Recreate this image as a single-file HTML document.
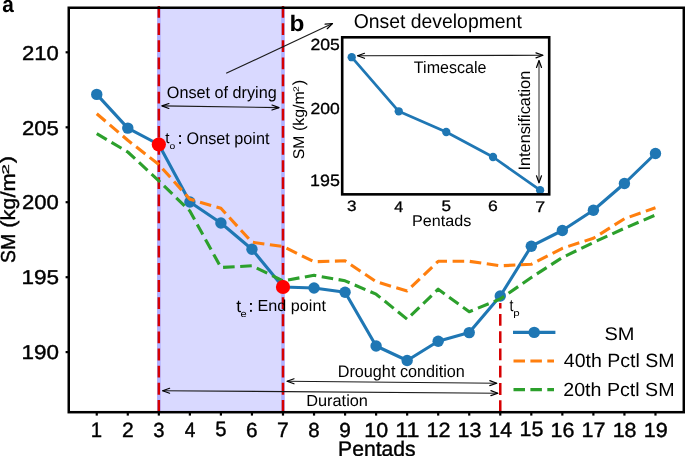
<!DOCTYPE html>
<html><head><meta charset="utf-8"><style>
html,body{margin:0;padding:0;background:#fff;width:685px;height:456px;overflow:hidden}
svg{display:block;font-family:"Liberation Sans",sans-serif;text-rendering:geometricPrecision}
svg{will-change:transform}
</style></head><body>
<svg width="685" height="456" viewBox="0 0 685 456">
<rect width="685" height="456" fill="#fff"/>
<rect x="158.83" y="7.75" width="124.16" height="404.45" fill="rgb(217,217,255)"/>
<line x1="158.83" y1="7.75" x2="158.83" y2="412.2" stroke="rgb(176,176,255)" stroke-width="3.6"/>
<line x1="282.99" y1="7.75" x2="282.99" y2="412.2" stroke="rgb(176,176,255)" stroke-width="3.6"/>
<line x1="158.83" y1="6" x2="158.83" y2="412.2" stroke="rgb(214,0,2)" stroke-width="2.5" stroke-dasharray="11.8 5.33"/>
<line x1="282.99" y1="6" x2="282.99" y2="412.2" stroke="rgb(214,0,2)" stroke-width="2.5" stroke-dasharray="11.8 5.33"/>
<line x1="500.27" y1="303" x2="500.27" y2="412.2" stroke="rgb(214,0,2)" stroke-width="2.5" stroke-dasharray="11.9 5.38" stroke-dashoffset="6.4"/>
<polyline points="96.75,94.4 127.79,128.1 158.83,144.5 189.87,202 220.91,223.0 251.95,249.25 282.99,287 314.03,288 345.07,292.3 376.11,346 407.15,360.5 438.19,341.2 469.23,332.6 500.27,296.0 531.31,246.2 562.35,230.5 593.39,210.2 624.43,183.5 655.47,153.5" fill="none" stroke="#1f77b4" stroke-width="3.1" stroke-linejoin="round"/>
<circle cx="96.75" cy="94.4" r="5.7" fill="#1f77b4"/>
<circle cx="127.79" cy="128.1" r="5.7" fill="#1f77b4"/>
<circle cx="158.83" cy="144.5" r="5.7" fill="#1f77b4"/>
<circle cx="189.87" cy="202" r="5.7" fill="#1f77b4"/>
<circle cx="220.91" cy="223.0" r="5.7" fill="#1f77b4"/>
<circle cx="251.95" cy="249.25" r="5.7" fill="#1f77b4"/>
<circle cx="282.99" cy="287" r="5.7" fill="#1f77b4"/>
<circle cx="314.03" cy="288" r="5.7" fill="#1f77b4"/>
<circle cx="345.07" cy="292.3" r="5.7" fill="#1f77b4"/>
<circle cx="376.11" cy="346" r="5.7" fill="#1f77b4"/>
<circle cx="407.15" cy="360.5" r="5.7" fill="#1f77b4"/>
<circle cx="438.19" cy="341.2" r="5.7" fill="#1f77b4"/>
<circle cx="469.23" cy="332.6" r="5.7" fill="#1f77b4"/>
<circle cx="500.27" cy="296.0" r="5.7" fill="#1f77b4"/>
<circle cx="531.31" cy="246.2" r="5.7" fill="#1f77b4"/>
<circle cx="562.35" cy="230.5" r="5.7" fill="#1f77b4"/>
<circle cx="593.39" cy="210.2" r="5.7" fill="#1f77b4"/>
<circle cx="624.43" cy="183.5" r="5.7" fill="#1f77b4"/>
<circle cx="655.47" cy="153.5" r="5.7" fill="#1f77b4"/>
<polyline points="96.75,113.7 127.79,140.3 158.83,164.5 189.87,199.2 220.91,208.3 251.95,242.2 282.99,246.5 314.03,261.7 345.07,260.8 376.11,281.7 407.15,291.0 438.19,261.3 469.23,261.3 500.27,265.8 531.31,264.3 562.35,248.3 593.39,238.3 624.43,218.7 655.47,207.7" fill="none" stroke="#ff7f0e" stroke-width="3.1" stroke-linejoin="round" stroke-dasharray="11.6 5.57"/>
<polyline points="96.75,133.7 127.79,152.0 158.83,180.8 189.87,211.0 220.91,267.5 251.95,265.8 282.99,280.8 314.03,275.3 345.07,280.8 376.11,294.2 407.15,319.2 438.19,289.2 469.23,311.7 500.27,299.0 531.31,277.5 562.35,257.5 593.39,242.5 624.43,228.3 655.47,215.0" fill="none" stroke="#2ca02c" stroke-width="3.1" stroke-linejoin="round" stroke-dasharray="11.6 5.52"/>
<circle cx="158.83" cy="144.5" r="7.1" fill="#ff0000"/>
<circle cx="282.99" cy="287" r="7.1" fill="#ff0000"/>
<rect x="68.75" y="7.75" width="615.05" height="404.45" fill="none" stroke="#000" stroke-width="2.5"/>
<line x1="96.75" y1="412.2" x2="96.75" y2="415.6" stroke="#000" stroke-width="2.2"/>
<line x1="127.79" y1="412.2" x2="127.79" y2="415.6" stroke="#000" stroke-width="2.2"/>
<line x1="158.83" y1="412.2" x2="158.83" y2="415.6" stroke="#000" stroke-width="2.2"/>
<line x1="189.87" y1="412.2" x2="189.87" y2="415.6" stroke="#000" stroke-width="2.2"/>
<line x1="220.91" y1="412.2" x2="220.91" y2="415.6" stroke="#000" stroke-width="2.2"/>
<line x1="251.95" y1="412.2" x2="251.95" y2="415.6" stroke="#000" stroke-width="2.2"/>
<line x1="282.99" y1="412.2" x2="282.99" y2="415.6" stroke="#000" stroke-width="2.2"/>
<line x1="314.03" y1="412.2" x2="314.03" y2="415.6" stroke="#000" stroke-width="2.2"/>
<line x1="345.07" y1="412.2" x2="345.07" y2="415.6" stroke="#000" stroke-width="2.2"/>
<line x1="376.11" y1="412.2" x2="376.11" y2="415.6" stroke="#000" stroke-width="2.2"/>
<line x1="407.15" y1="412.2" x2="407.15" y2="415.6" stroke="#000" stroke-width="2.2"/>
<line x1="438.19" y1="412.2" x2="438.19" y2="415.6" stroke="#000" stroke-width="2.2"/>
<line x1="469.23" y1="412.2" x2="469.23" y2="415.6" stroke="#000" stroke-width="2.2"/>
<line x1="500.27" y1="412.2" x2="500.27" y2="415.6" stroke="#000" stroke-width="2.2"/>
<line x1="531.31" y1="412.2" x2="531.31" y2="415.6" stroke="#000" stroke-width="2.2"/>
<line x1="562.35" y1="412.2" x2="562.35" y2="415.6" stroke="#000" stroke-width="2.2"/>
<line x1="593.39" y1="412.2" x2="593.39" y2="415.6" stroke="#000" stroke-width="2.2"/>
<line x1="624.43" y1="412.2" x2="624.43" y2="415.6" stroke="#000" stroke-width="2.2"/>
<line x1="655.47" y1="412.2" x2="655.47" y2="415.6" stroke="#000" stroke-width="2.2"/>
<line x1="65.6" y1="52.3" x2="68.75" y2="52.3" stroke="#000" stroke-width="2.2"/>
<line x1="65.6" y1="127.3" x2="68.75" y2="127.3" stroke="#000" stroke-width="2.2"/>
<line x1="65.6" y1="202.2" x2="68.75" y2="202.2" stroke="#000" stroke-width="2.2"/>
<line x1="65.6" y1="277.2" x2="68.75" y2="277.2" stroke="#000" stroke-width="2.2"/>
<line x1="65.6" y1="352.1" x2="68.75" y2="352.1" stroke="#000" stroke-width="2.2"/>
<line x1="513" y1="332.4" x2="555.4" y2="332.4" stroke="#1f77b4" stroke-width="3.1"/>
<circle cx="534.2" cy="332.4" r="5.7" fill="#1f77b4"/>
<line x1="513.5" y1="361" x2="554" y2="361" stroke="#ff7f0e" stroke-width="3.1" stroke-dasharray="11.5 5.4"/>
<line x1="513.5" y1="389.6" x2="554" y2="389.6" stroke="#2ca02c" stroke-width="3.1" stroke-dasharray="11.5 5.4"/>
<rect x="342.2" y="37.3" width="207.00000000000006" height="157.05" fill="#fff"/>
<polyline points="351.7,57.2 398.75,111.3 446.25,132 493,157 540.1,190.2" fill="none" stroke="#1f77b4" stroke-width="2.75" stroke-linejoin="round"/>
<circle cx="351.7" cy="57.2" r="4.15" fill="#1f77b4"/>
<circle cx="398.75" cy="111.3" r="4.15" fill="#1f77b4"/>
<circle cx="446.25" cy="132" r="4.15" fill="#1f77b4"/>
<circle cx="493" cy="157" r="4.15" fill="#1f77b4"/>
<circle cx="540.1" cy="190.2" r="4.15" fill="#1f77b4"/>
<rect x="342.2" y="37.3" width="207.00" height="157.05" fill="none" stroke="#000" stroke-width="2.6"/>
<line x1="161.9" y1="105.9" x2="279.0" y2="107.6" stroke="#1a1a1a" stroke-width="1.1"/><polyline points="271.96,110.00 279.00,107.60 272.04,105.00" fill="none" stroke="#000" stroke-width="1.2000000000000002" stroke-linejoin="round" stroke-linecap="round"/><polyline points="168.94,103.50 161.90,105.90 168.86,108.50" fill="none" stroke="#000" stroke-width="1.2000000000000002" stroke-linejoin="round" stroke-linecap="round"/>
<line x1="287" y1="381.2" x2="496.8" y2="383.2" stroke="#1a1a1a" stroke-width="1.1"/><polyline points="489.78,385.63 496.80,383.20 489.82,380.63" fill="none" stroke="#000" stroke-width="1.2000000000000002" stroke-linejoin="round" stroke-linecap="round"/><polyline points="294.02,378.77 287.00,381.20 293.98,383.77" fill="none" stroke="#000" stroke-width="1.2000000000000002" stroke-linejoin="round" stroke-linecap="round"/>
<line x1="162.6" y1="390.7" x2="497.9" y2="393.2" stroke="#1a1a1a" stroke-width="1.1"/><polyline points="490.88,395.65 497.90,393.20 490.92,390.65" fill="none" stroke="#000" stroke-width="1.2000000000000002" stroke-linejoin="round" stroke-linecap="round"/><polyline points="169.62,388.25 162.60,390.70 169.58,393.25" fill="none" stroke="#000" stroke-width="1.2000000000000002" stroke-linejoin="round" stroke-linecap="round"/>
<line x1="226.2" y1="73.3" x2="332.5" y2="23.5" stroke="#1a1a1a" stroke-width="1.1"/><polyline points="327.22,28.73 332.50,23.50 325.10,24.21" fill="none" stroke="#000" stroke-width="1.2000000000000002" stroke-linejoin="round" stroke-linecap="round"/>
<line x1="357.5" y1="55.8" x2="543" y2="55.3" stroke="#1a1a1a" stroke-width="1.1"/><polyline points="536.01,57.82 543.00,55.30 535.99,52.82" fill="none" stroke="#000" stroke-width="1.2000000000000002" stroke-linejoin="round" stroke-linecap="round"/><polyline points="364.49,53.28 357.50,55.80 364.51,58.28" fill="none" stroke="#000" stroke-width="1.2000000000000002" stroke-linejoin="round" stroke-linecap="round"/>
<line x1="539.0" y1="60.5" x2="539.0" y2="182.8" stroke="#000" stroke-width="0.85"/><polyline points="536.50,175.80 539.00,182.80 541.50,175.80" fill="none" stroke="#000" stroke-width="1.2" stroke-linejoin="round" stroke-linecap="round"/><polyline points="541.50,67.50 539.00,60.50 536.50,67.50" fill="none" stroke="#000" stroke-width="1.2" stroke-linejoin="round" stroke-linecap="round"/>
<text transform="translate(21.99,59.50) scale(1.1020,1)" font-size="20.06" font-weight="normal" fill="#000"  stroke="#000" stroke-width="0.4" stroke-linejoin="round">210</text>
<text transform="translate(21.99,134.50) scale(1.1041,1)" font-size="20.06" font-weight="normal" fill="#000"  stroke="#000" stroke-width="0.4" stroke-linejoin="round">205</text>
<text transform="translate(21.99,209.40) scale(1.1020,1)" font-size="20.06" font-weight="normal" fill="#000"  stroke="#000" stroke-width="0.4" stroke-linejoin="round">200</text>
<text transform="translate(21.39,284.40) scale(1.1226,1)" font-size="20.06" font-weight="normal" fill="#000"  stroke="#000" stroke-width="0.4" stroke-linejoin="round">195</text>
<text transform="translate(21.39,359.30) scale(1.1205,1)" font-size="20.06" font-weight="normal" fill="#000"  stroke="#000" stroke-width="0.4" stroke-linejoin="round">190</text>
<text transform="translate(90.80,436.70) scale(0.9755,1)" font-size="20.93" font-weight="normal" fill="#000"  stroke="#000" stroke-width="0.4" stroke-linejoin="round">1</text>
<text transform="translate(121.94,436.70) scale(1.0205,1)" font-size="20.63" font-weight="normal" fill="#000"  stroke="#000" stroke-width="0.4" stroke-linejoin="round">2</text>
<text transform="translate(153.26,436.50) scale(0.9958,1)" font-size="20.34" font-weight="normal" fill="#000"  stroke="#000" stroke-width="0.4" stroke-linejoin="round">3</text>
<text transform="translate(184.63,436.70) scale(0.9101,1)" font-size="20.93" font-weight="normal" fill="#000"  stroke="#000" stroke-width="0.4" stroke-linejoin="round">4</text>
<text transform="translate(215.30,436.49) scale(0.9817,1)" font-size="20.63" font-weight="normal" fill="#000"  stroke="#000" stroke-width="0.4" stroke-linejoin="round">5</text>
<text transform="translate(246.09,436.50) scale(1.0239,1)" font-size="20.34" font-weight="normal" fill="#000"  stroke="#000" stroke-width="0.4" stroke-linejoin="round">6</text>
<text transform="translate(277.11,436.70) scale(1.0081,1)" font-size="20.93" font-weight="normal" fill="#000"  stroke="#000" stroke-width="0.4" stroke-linejoin="round">7</text>
<text transform="translate(308.35,436.50) scale(1.0043,1)" font-size="20.34" font-weight="normal" fill="#000"  stroke="#000" stroke-width="0.4" stroke-linejoin="round">8</text>
<text transform="translate(339.29,436.50) scale(1.0216,1)" font-size="20.34" font-weight="normal" fill="#000"  stroke="#000" stroke-width="0.4" stroke-linejoin="round">9</text>
<text transform="translate(364.34,436.50) scale(1.0504,1)" font-size="20.34" font-weight="normal" fill="#000"  stroke="#000" stroke-width="0.4" stroke-linejoin="round">10</text>
<text transform="translate(395.23,436.70) scale(1.1146,1)" font-size="20.93" font-weight="normal" fill="#000"  stroke="#000" stroke-width="0.4" stroke-linejoin="round">11</text>
<text transform="translate(426.40,436.70) scale(1.0471,1)" font-size="20.63" font-weight="normal" fill="#000"  stroke="#000" stroke-width="0.4" stroke-linejoin="round">12</text>
<text transform="translate(457.45,436.50) scale(1.0557,1)" font-size="20.34" font-weight="normal" fill="#000"  stroke="#000" stroke-width="0.4" stroke-linejoin="round">13</text>
<text transform="translate(488.51,436.70) scale(1.0106,1)" font-size="20.93" font-weight="normal" fill="#000"  stroke="#000" stroke-width="0.4" stroke-linejoin="round">14</text>
<text transform="translate(519.53,436.49) scale(1.0387,1)" font-size="20.63" font-weight="normal" fill="#000"  stroke="#000" stroke-width="0.4" stroke-linejoin="round">15</text>
<text transform="translate(550.57,436.50) scale(1.0557,1)" font-size="20.34" font-weight="normal" fill="#000"  stroke="#000" stroke-width="0.4" stroke-linejoin="round">16</text>
<text transform="translate(581.60,436.70) scale(1.0321,1)" font-size="20.93" font-weight="normal" fill="#000"  stroke="#000" stroke-width="0.4" stroke-linejoin="round">17</text>
<text transform="translate(612.65,436.50) scale(1.0546,1)" font-size="20.34" font-weight="normal" fill="#000"  stroke="#000" stroke-width="0.4" stroke-linejoin="round">18</text>
<text transform="translate(643.68,436.50) scale(1.0589,1)" font-size="20.34" font-weight="normal" fill="#000"  stroke="#000" stroke-width="0.4" stroke-linejoin="round">19</text>
<text transform="translate(338.07,456.40) scale(0.9953,1)" font-size="21.22" font-weight="normal" fill="#000"  stroke="#000" stroke-width="0.4" stroke-linejoin="round">Pentads</text>
<text transform="translate(14.90,263.00) rotate(-90) scale(0.9668,1)" font-size="20.20" font-weight="normal" fill="#000"  stroke="#000" stroke-width="0.4" stroke-linejoin="round">SM</text>
<text transform="translate(14.90,227.75) rotate(-90) scale(1.0767,1)" font-size="20.20" font-weight="normal" fill="#000"  stroke="#000" stroke-width="0.4" stroke-linejoin="round">(kg/m</text>
<text transform="translate(8.66,174.49) rotate(-90) scale(1.9407,1)" font-size="9.63" font-weight="normal" fill="#000"  stroke="#000" stroke-width="0.27999999999999997" stroke-linejoin="round">2</text>
<text transform="translate(13.45,163.13) rotate(-90) scale(1.2070,1)" font-size="18.13" font-weight="normal" fill="#000"  stroke="#000" stroke-width="0.4" stroke-linejoin="round">)</text>
<text transform="translate(2.20,11.67) scale(0.9186,1)" font-size="22.63" font-weight="bold" fill="#000" >a</text>
<text transform="translate(289.39,31.47) scale(1.0806,1)" font-size="22.59" font-weight="bold" fill="#000" >b</text>
<text transform="translate(353.69,28.10) scale(0.9737,1)" font-size="19.91" font-weight="normal" fill="#000" >Onset development</text>
<text transform="translate(166.84,97.90) scale(0.9781,1)" font-size="16.57" font-weight="normal" fill="#000" >Onset of drying</text>
<text transform="translate(165.17,143.38) scale(0.9963,1)" font-size="15.29" font-weight="normal" fill="#000" >t</text>
<text transform="translate(169.56,148.91) scale(1.1610,1)" font-size="8.94" font-weight="normal" fill="#000" >o</text>
<rect x="179.1" y="135.1" width="1.9" height="1.9"/><rect x="179.1" y="141.9" width="1.9" height="1.9"/>
<text transform="translate(186.54,143.70) scale(0.9707,1)" font-size="16.72" font-weight="normal" fill="#000" >Onset point</text>
<text transform="translate(236.14,311.66) scale(1.0084,1)" font-size="17.43" font-weight="normal" fill="#000" >t</text>
<text transform="translate(240.44,316.70) scale(1.1440,1)" font-size="9.67" font-weight="normal" fill="#000" >e</text>
<rect x="250" y="303" width="1.9" height="1.9"/><rect x="250" y="309.9" width="1.9" height="1.9"/>
<text transform="translate(257.57,311.30) scale(1.0114,1)" font-size="15.99" font-weight="normal" fill="#000" >End point</text>
<text transform="translate(509.39,311.12) scale(0.8476,1)" font-size="16.59" font-weight="normal" fill="#000" >t</text>
<text transform="translate(513.26,316.40) scale(1.2677,1)" font-size="9.12" font-weight="normal" fill="#000" >p</text>
<text transform="translate(337.67,377.40) scale(0.9624,1)" font-size="16.86" font-weight="normal" fill="#000" >Drought condition</text>
<text transform="translate(306.16,405.90) scale(1.0151,1)" font-size="16.13" font-weight="normal" fill="#000" >Duration</text>
<text transform="translate(604.38,340.40) scale(1.0945,1)" font-size="18.31" font-weight="normal" fill="#000" >SM</text>
<text transform="translate(563.75,366.50) scale(1.0192,1)" font-size="19.19" font-weight="normal" fill="#000" >40th Pctl SM</text>
<text transform="translate(563.22,395.50) scale(1.0320,1)" font-size="19.04" font-weight="normal" fill="#000" >20th Pctl SM</text>
<text transform="translate(310.57,49.69) scale(1.0916,1)" font-size="16.10" font-weight="normal" fill="#000"  stroke="#000" stroke-width="0.3" stroke-linejoin="round">205</text>
<text transform="translate(310.57,114.49) scale(1.0991,1)" font-size="15.96" font-weight="normal" fill="#000"  stroke="#000" stroke-width="0.3" stroke-linejoin="round">200</text>
<text transform="translate(310.09,186.39) scale(1.0907,1)" font-size="16.38" font-weight="normal" fill="#000"  stroke="#000" stroke-width="0.3" stroke-linejoin="round">195</text>
<text transform="translate(347.00,211.40) scale(1.1414,1)" font-size="14.97" font-weight="normal" fill="#000"  stroke="#000" stroke-width="0.3" stroke-linejoin="round">3</text>
<text transform="translate(394.33,211.55) scale(1.0431,1)" font-size="15.41" font-weight="normal" fill="#000"  stroke="#000" stroke-width="0.3" stroke-linejoin="round">4</text>
<text transform="translate(441.52,211.40) scale(1.1253,1)" font-size="15.19" font-weight="normal" fill="#000"  stroke="#000" stroke-width="0.3" stroke-linejoin="round">5</text>
<text transform="translate(488.05,211.40) scale(1.1736,1)" font-size="14.97" font-weight="normal" fill="#000"  stroke="#000" stroke-width="0.3" stroke-linejoin="round">6</text>
<text transform="translate(535.14,211.55) scale(1.1555,1)" font-size="15.41" font-weight="normal" fill="#000"  stroke="#000" stroke-width="0.3" stroke-linejoin="round">7</text>
<text transform="translate(411.97,225.80) scale(1.0297,1)" font-size="15.70" font-weight="normal" fill="#000" >Pentads</text>
<text transform="translate(303.90,159.23) rotate(-90) scale(1.0170,1)" font-size="15.55" font-weight="normal" fill="#000" >SM</text>
<text transform="translate(303.90,131.09) rotate(-90) scale(1.0220,1)" font-size="15.55" font-weight="normal" fill="#000" >(kg/m</text>
<text transform="translate(298.50,91.93) rotate(-90) scale(1.2890,1)" font-size="8.17" font-weight="normal" fill="#000" >2</text>
<text transform="translate(304.27,85.30) rotate(-90) scale(1.0316,1)" font-size="16.09" font-weight="normal" fill="#000" >)</text>
<text transform="translate(413.85,73.20) scale(0.9619,1)" font-size="16.72" font-weight="normal" fill="#000" >Timescale</text>
<text transform="translate(529.50,170.60) rotate(-90) scale(0.9856,1)" font-size="16.57" font-weight="normal" fill="#000" >Intensification</text>
</svg></body></html>
